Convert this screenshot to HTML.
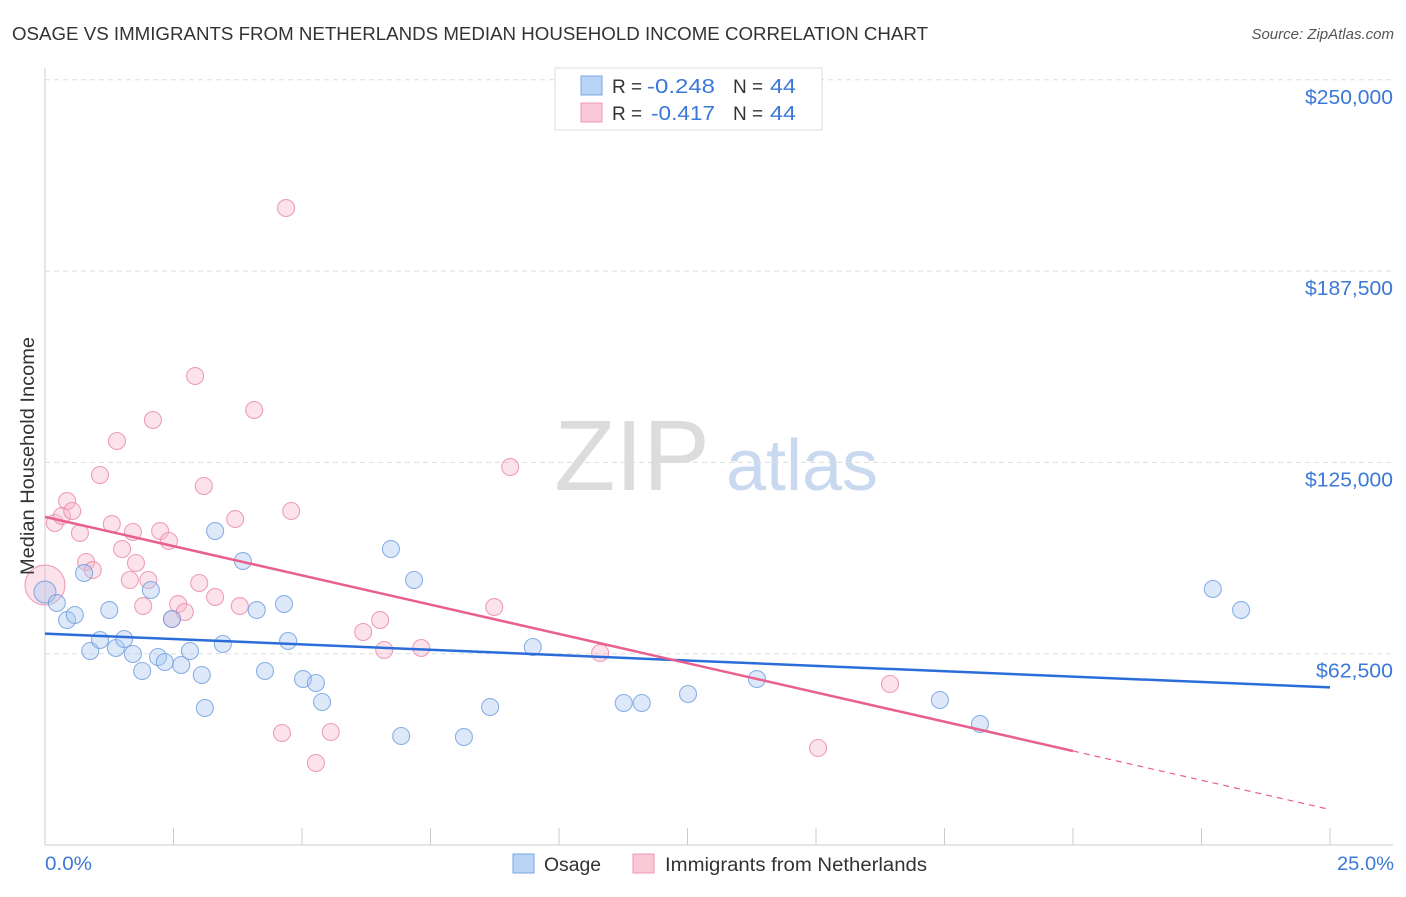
<!DOCTYPE html>
<html><head><meta charset="utf-8">
<style>
body{margin:0;background:#fff;font-family:"Liberation Sans",sans-serif;}
svg text{font-family:"Liberation Sans",sans-serif;}
</style></head>
<body>
<svg id="chart" width="1406" height="892" viewBox="0 0 1406 892">
<text x="12" y="40" font-size="18" fill="#333" textLength="916" lengthAdjust="spacingAndGlyphs">OSAGE VS IMMIGRANTS FROM NETHERLANDS MEDIAN HOUSEHOLD INCOME CORRELATION CHART</text>
<text x="1394" y="39" font-size="15" fill="#555" font-style="italic" text-anchor="end">Source: ZipAtlas.com</text>
<g>
<text x="632" y="490" font-size="100" fill="#dcdcdc" font-family="Liberation Serif,serif" text-anchor="middle">ZIP</text>
<text x="802" y="490" font-size="72" fill="#c9d9f0" text-anchor="middle">atlas</text>
</g>
<g id="grid"></g>
<g id="axes"></g>
<g id="pts"></g>
<g id="lines"></g>
<text transform="translate(34,456) rotate(-90)" font-size="19" fill="#333" text-anchor="middle" textLength="238" lengthAdjust="spacingAndGlyphs">Median Household Income</text>
<text x="45" y="870" font-size="19" fill="#3b78d8" textLength="47" lengthAdjust="spacingAndGlyphs">0.0%</text>
<text x="1394" y="870" font-size="19" fill="#3b78d8" text-anchor="end" textLength="57" lengthAdjust="spacingAndGlyphs">25.0%</text>
<g>
<rect x="555" y="68" width="267" height="62" fill="#fff" stroke="#ddd"/>
<rect x="581" y="76" width="21" height="19" fill="#b9d3f5" stroke="#7aa6e6"/>
<rect x="581" y="103" width="21" height="19" fill="#fbc8d8" stroke="#ee9ab5"/>
<text x="612" y="93" font-size="19" fill="#333">R =</text>
<text x="647" y="93" font-size="20" fill="#3b78d8" textLength="68" lengthAdjust="spacingAndGlyphs">-0.248</text>
<text x="733" y="93" font-size="19" fill="#333">N =</text>
<text x="770" y="93" font-size="20" fill="#3b78d8" textLength="26" lengthAdjust="spacingAndGlyphs">44</text>
<text x="612" y="120" font-size="19" fill="#333">R =</text>
<text x="651" y="120" font-size="20" fill="#3b78d8" textLength="64" lengthAdjust="spacingAndGlyphs">-0.417</text>
<text x="733" y="120" font-size="19" fill="#333">N =</text>
<text x="770" y="120" font-size="20" fill="#3b78d8" textLength="26" lengthAdjust="spacingAndGlyphs">44</text>
</g>
<g>
<rect x="513" y="854" width="21" height="19" fill="#b9d3f5" stroke="#7aa6e6"/>
<text x="544" y="871" font-size="19" fill="#333" textLength="57" lengthAdjust="spacingAndGlyphs">Osage</text>
<rect x="633" y="854" width="21" height="19" fill="#fbc8d8" stroke="#ee9ab5"/>
<text x="665" y="871" font-size="19" fill="#333" textLength="262" lengthAdjust="spacingAndGlyphs">Immigrants from Netherlands</text>
</g>
</svg>
<script>
const yTicks=[62500,125000,187500,250000];
const yTickLabels=["$62,500","$125,000","$187,500","$250,000"];
const xTicks=[0,2.5,5,7.5,10,12.5,15,17.5,20,22.5,25];
const osageX=[0.00,0.23,0.43,0.58,0.76,0.88,1.07,1.25,1.38,1.54,1.71,1.89,2.06,2.20,2.33,2.47,2.65,2.82,3.05,3.11,3.31,3.46,3.85,4.12,4.28,4.65,4.73,5.02,5.27,5.39,6.73,6.93,7.18,8.15,8.66,9.49,11.26,11.61,12.51,13.85,17.41,18.19,22.72,23.27];
const osageY=[82650,79060,73500,75140,88860,63380,66970,76770,64360,67300,62400,56850,83310,61420,59790,73830,58810,63380,55540,44760,102580,65670,92780,76770,56850,78730,66650,54230,52930,46720,96700,35610,86580,35280,45080,64690,46390,46390,49330,54230,47370,39530,83640,76770];
const nethX=[0.00,0.19,0.33,0.43,0.53,0.68,0.80,0.93,1.07,1.30,1.40,1.50,1.65,1.71,1.77,1.91,2.01,2.10,2.24,2.41,2.47,2.59,2.72,2.92,3.00,3.09,3.31,3.70,3.79,4.07,4.61,4.69,4.79,5.27,5.56,6.19,6.52,6.60,7.32,8.74,9.05,10.80,15.04,16.44];
const nethY=[84940,105200,107480,112380,109120,101930,92460,89840,120880,104870,131990,96700,86580,102260,92130,78080,86580,138850,102580,99320,73830,78730,76120,153220,85600,117290,81020,106500,78080,142110,36590,208110,109120,26790,36920,69590,73510,63710,64360,77750,123490,62730,31690,52600];
const NS="http://www.w3.org/2000/svg";
const X=v=>45+v/25*1285;
const Y=v=>845-v/62500*191.3;
function mk(tag,attrs,parent){const e=document.createElementNS(NS,tag);for(const k in attrs)e.setAttribute(k,attrs[k]);document.getElementById(parent).appendChild(e);return e;}
yTicks.forEach((t,i)=>{
 const g=mk('line',{x1:45,x2:1393,y1:Y(t),y2:Y(t),stroke:'#ddd','stroke-dasharray':'5,4'},'grid');
 
 
 const l=mk('text',{x:1393,y:Y(t)+24,'font-size':20,fill:'#3b78d8','text-anchor':'end',textLength:yTickLabels[i].length*11,lengthAdjust:'spacingAndGlyphs'},'grid');
 l.textContent=yTickLabels[i];
 
 
});
const ax=mk('line',{x1:45,x2:45,y1:68,y2:845,stroke:'#ccc'},'axes');


const bx=mk('line',{x1:45,x2:1393,y1:845,y2:845,stroke:'#ccc'},'axes');


xTicks.forEach(t=>{
 const tk=mk('line',{x1:X(t),x2:X(t),y1:828,y2:845,stroke:'#ccc'},'axes');
 
 
});
function pts(xs,ys,fill,stroke,name,big){
 xs.forEach((x,i)=>{
  const c=mk('circle',{cx:X(x),cy:Y(ys[i]),r:(i===0?big:8.5),fill:fill,'fill-opacity':0.4,stroke:stroke,'stroke-width':1.1,'stroke-opacity':0.8},'pts');
  
  
 });
}
pts(nethX,nethY,'#f7b6ca','#e88aa8','netherlands-point',20);
pts(osageX,osageY,'#a9c8f0','#6f9ee0','osage-point',11);
function fit(xs,ys){const n=xs.length;let mx=0,my=0;xs.forEach((x,i)=>{mx+=x;my+=ys[i];});mx/=n;my/=n;let sxy=0,sxx=0;xs.forEach((x,i)=>{sxy+=(x-mx)*(ys[i]-my);sxx+=(x-mx)*(x-mx);});const b=sxy/sxx;return [my-b*mx,b];}
const [ao,bo]=fit(osageX,osageY);
const lo=mk('line',{x1:X(0),y1:Y(ao),x2:X(25),y2:Y(ao+bo*25),stroke:'#2a6dd9','stroke-width':2.5},'lines');


const [an,bn]=fit(nethX,nethY);
const ln=mk('line',{x1:X(0),y1:Y(an),x2:X(20),y2:Y(an+bn*20),stroke:'#e8608e','stroke-width':2.5},'lines');


const ld=mk('line',{x1:X(20),y1:Y(an+bn*20),x2:X(25),y2:Y(an+bn*25),stroke:'#e8608e','stroke-width':1.2,'stroke-dasharray':'6,5'},'lines');


</script>
</body></html>
